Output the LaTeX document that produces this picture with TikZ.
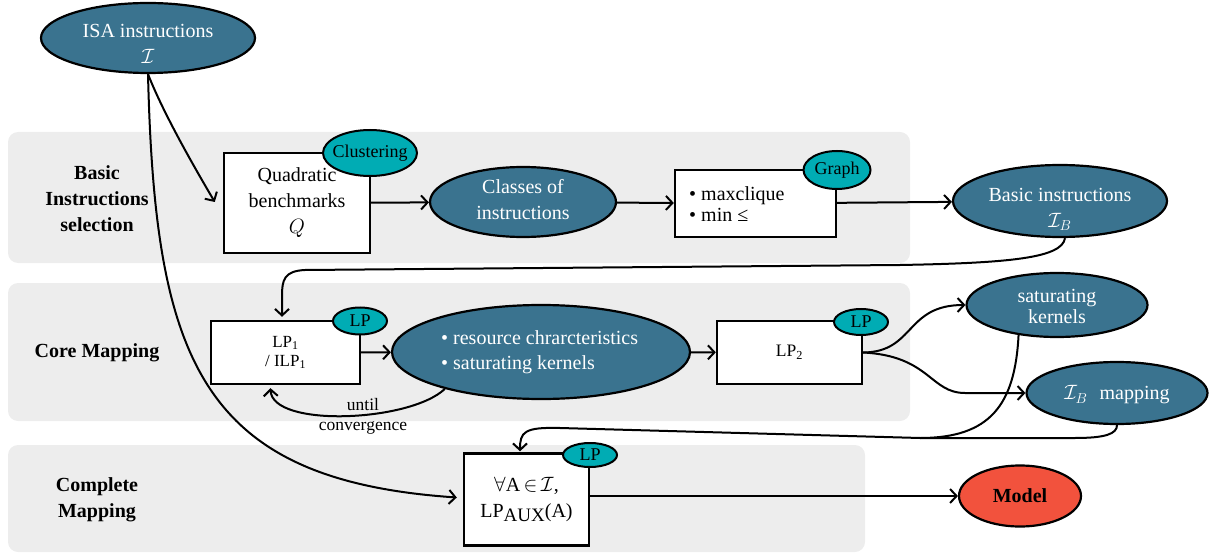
\documentclass[tikz,border=0pt]{standalone}
\usepackage{fontspec}
\setmainfont{Liberation Serif}
\usetikzlibrary{shapes.geometric,arrows.meta,calc}
\definecolor{dteal}{RGB}{58,115,143}
\definecolor{cteal}{RGB}{0,172,180}
\definecolor{mred}{RGB}{242,82,61}
\definecolor{bandgrey}{RGB}{237,237,237}
\begin{document}
\begin{tikzpicture}[x=1pt,y=-1pt,
  font=\fontsize{20}{26}\selectfont,
  dell/.style={ellipse, draw=black, line width=2.2pt, fill=dteal, inner sep=0pt},
  cell/.style={ellipse, draw=black, line width=2pt, fill=cteal, inner sep=0pt},
  rell/.style={ellipse, draw=black, line width=2.2pt, fill=mred, inner sep=0pt},
  wtext/.style={text=white, align=center, inner sep=0pt},
  ctext/.style={text=black, inner sep=0pt, font=\fontsize{18}{20}\selectfont},
  boxnode/.style={rectangle, draw=black, line width=2.4pt, fill=white, inner sep=0pt, align=center},
  smalltxt/.style={font=\fontsize{17.5}{20}\selectfont},
  conn/.style={line width=2pt},
  arr/.style={conn, -{Straight Barb[length=6.5pt,width=14pt]}},
  sectlabel/.style={font=\fontsize{20}{26}\selectfont\bfseries, align=center, inner sep=0pt}
]
\useasboundingbox (0,0) rectangle (1214,553);
% bands
\fill[bandgrey, rounded corners=10pt] (8,132) rectangle (910,263);
\fill[bandgrey, rounded corners=10pt] (8,283) rectangle (910,421);
\fill[bandgrey, rounded corners=10pt] (8,445) rectangle (865,552);

% section labels
\node[sectlabel] (lab1) at (97,199) {Basic\\Instructions\\selection};
\node[sectlabel] (lab2) at (97,353) {Core Mapping};
\node[sectlabel] (lab3) at (97,500) {Complete\\Mapping};

% ISA
\node[dell, minimum width=214pt, minimum height=70pt] (isa) at (148,38) {};
\node[wtext] (isat) at (148,44) {ISA instructions\\$\mathcal{I}$};

% row 1
\node[boxnode, minimum width=146pt, minimum height=100pt] (quad) at (297,203) {Quadratic\\benchmarks\\$Q$};
\node[cell, minimum width=94pt, minimum height=46pt] (clus) at (370,153) {};
\node[ctext] (clust) at (clus) {Clustering};

\node[dell, minimum width=186pt, minimum height=70pt] (classes) at (523,202) {};
\node[wtext] (classest) at (523,200) {Classes of\\instructions};

\node[boxnode, minimum width=161pt, minimum height=67pt] (maxc) at (755.5,203.5) {};
\node[align=left, anchor=west, inner sep=0pt, font=\fontsize{20}{21}\selectfont] (maxct) at (689,204) {• maxclique\\• min ≤};
\node[cell, minimum width=67pt, minimum height=38pt] (graph) at (837,170) {};
\node[ctext] (grapht) at (graph) {Graph};

\node[dell, minimum width=214pt, minimum height=72pt] (basic) at (1060,201) {};
\node[wtext] (basict) at (1060,209) {Basic instructions\\$\mathcal{I}_B$};

% row 2
\node[boxnode, minimum width=149pt, minimum height=63pt, font=\fontsize{17}{19}\selectfont] (lp1) at (285.5,352.5) {LP\textsubscript{1}\\/ ILP\textsubscript{1}};
\node[cell, minimum width=54pt, minimum height=27pt] (lpc1) at (360,321) {};
\node[ctext] (lpc1t) at (lpc1) {LP};

\node[dell, minimum width=298pt, minimum height=94pt] (res) at (541,352) {};
\node[wtext, align=left, anchor=west, font=\fontsize{20}{25}\selectfont] (rest) at (441,352) {• resource chrarcteristics\\• saturating kernels};

\node[boxnode, minimum width=145pt, minimum height=63pt, font=\fontsize{17.5}{20}\selectfont] (lp2) at (789.5,352.5) {LP\textsubscript{2}};
\node[cell, minimum width=54pt, minimum height=26pt] (lpc2) at (861,322) {};
\node[ctext] (lpc2t) at (lpc2) {LP};

\node[dell, minimum width=181pt, minimum height=64pt] (sat) at (1057,305) {};
\node[wtext, font=\fontsize{20}{21}\selectfont] (satt) at (1057,306) {saturating\\kernels};

\node[dell, minimum width=181pt, minimum height=62pt] (ib) at (1117,393) {};
\node[wtext] (ibt) at (1117,395) {$\mathcal{I}_B$\hspace{12pt}mapping};

% row 3
\node[boxnode, minimum width=125pt, minimum height=92pt] (lpaux) at (526.5,499.5) {$\forall$A$\,{\in}\,\mathcal{I}$,\\LP\raisebox{-4pt}{\fontsize{19}{20}\selectfont AUX}(A)};
\node[cell, minimum width=54pt, minimum height=24pt] (lpc3) at (590,455) {};
\node[ctext] (lpc3t) at (lpc3) {LP};

\node[rell, minimum width=122pt, minimum height=61pt] (model) at (1020,496) {};
\node[inner sep=0pt, font=\fontsize{20}{24}\selectfont\bfseries] (modelt) at (model) {Model};

% loop labels
\node[smalltxt, inner sep=0pt] (until) at (363,405) {until};
\node[smalltxt, inner sep=0pt] (conv) at (363,428) {convergence};

% connectors
\draw[arr] (isa.south) .. controls (162,110) and (190,160) .. ($(quad.west)+(-8,-1)$);
\draw[arr] (isa.south) .. controls (155,360) and (200,480) .. ($(lpaux.west)+(-6,-2)$);
\draw[arr] (quad) -- (classes);
\draw[arr] (classes) -- (maxc);
\draw[arr] (maxc) -- (basic);
\draw[arr] ($(basic.south)+(5,0)$) .. controls (1062,258) and (1010,263) .. (900,265)
   -- (305,270) .. controls (284,271) and (282,280) .. (282,296) -- ($(lp1.north)+(-3.5,-3)$);
\draw[arr] (lp1) -- (res);
\draw[arr] (res.201) .. controls (410,422) and (272,428) .. ($(lp1.south)+(-15,3)$);
\draw[arr] (res) -- (lp2);
\draw[arr] (lp2.east) .. controls (915,352) and (905,305) .. (sat.west);
\draw[arr] (lp2.east) .. controls (930,356) and (930,393) .. (965,393) -- (ib.west);
\draw[arr] (sat.218) .. controls (1015,405) and (990,438) .. (920,438)
   -- (560,428) .. controls (524,427) and (520,432) .. ($(lpaux.north)+(-6.5,-1)$);
\draw[conn] (ib.south) .. controls (1117,434) and (1105,438) .. (1075,438) -- (920,438);
\draw[arr] (lpaux.east |- model.west) -- (model.west);
\end{tikzpicture}
\end{document}
